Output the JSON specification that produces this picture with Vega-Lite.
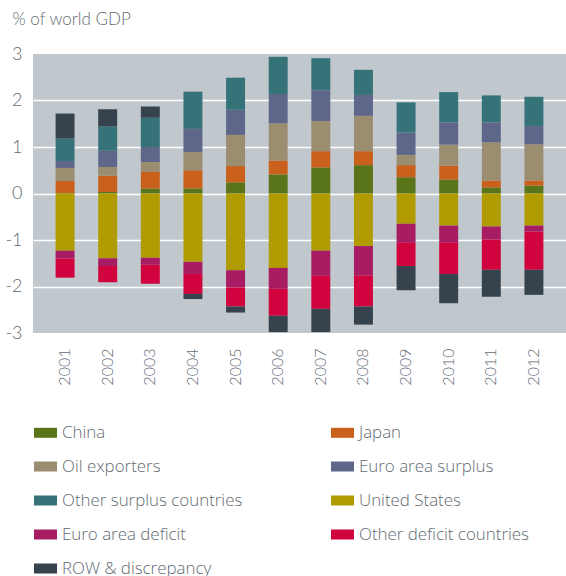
{
  "$schema": "https://vega.github.io/schema/vega-lite/v6.json",
  "autosize": "none",
  "width": 533,
  "height": 279,
  "padding": {"left": 33, "top": 54, "right": 0, "bottom": 243},
  "background": "white",
  "config": {
    "view": {"fill": "#C0C8CE", "stroke": null},
    "font": "Lato"
  },
  "data": {
    "values": [
      {"year":"2001","series":"China","value":0.01,"rank":1},
      {"year":"2001","series":"Japan","value":0.26,"rank":2},
      {"year":"2001","series":"Oil exporters","value":0.28,"rank":3},
      {"year":"2001","series":"Euro area surplus","value":0.15,"rank":4},
      {"year":"2001","series":"Other surplus countries","value":0.48,"rank":5},
      {"year":"2001","series":"United States","value":-1.23,"rank":6},
      {"year":"2001","series":"Euro area deficit","value":-0.17,"rank":7},
      {"year":"2001","series":"Other deficit countries","value":-0.41,"rank":8},
      {"year":"2001","series":"ROW & discrepancy","value":0.54,"rank":9},
      {"year":"2002","series":"China","value":0.03,"rank":1},
      {"year":"2002","series":"Japan","value":0.35,"rank":2},
      {"year":"2002","series":"Oil exporters","value":0.19,"rank":3},
      {"year":"2002","series":"Euro area surplus","value":0.35,"rank":4},
      {"year":"2002","series":"Other surplus countries","value":0.52,"rank":5},
      {"year":"2002","series":"United States","value":-1.39,"rank":6},
      {"year":"2002","series":"Euro area deficit","value":-0.17,"rank":7},
      {"year":"2002","series":"Other deficit countries","value":-0.35,"rank":8},
      {"year":"2002","series":"ROW & discrepancy","value":0.37,"rank":9},
      {"year":"2003","series":"China","value":0.11,"rank":1},
      {"year":"2003","series":"Japan","value":0.35,"rank":2},
      {"year":"2003","series":"Oil exporters","value":0.22,"rank":3},
      {"year":"2003","series":"Euro area surplus","value":0.32,"rank":4},
      {"year":"2003","series":"Other surplus countries","value":0.63,"rank":5},
      {"year":"2003","series":"United States","value":-1.38,"rank":6},
      {"year":"2003","series":"Euro area deficit","value":-0.15,"rank":7},
      {"year":"2003","series":"Other deficit countries","value":-0.41,"rank":8},
      {"year":"2003","series":"ROW & discrepancy","value":0.24,"rank":9},
      {"year":"2004","series":"China","value":0.11,"rank":1},
      {"year":"2004","series":"Japan","value":0.39,"rank":2},
      {"year":"2004","series":"Oil exporters","value":0.39,"rank":3},
      {"year":"2004","series":"Euro area surplus","value":0.50,"rank":4},
      {"year":"2004","series":"Other surplus countries","value":0.80,"rank":5},
      {"year":"2004","series":"United States","value":-1.47,"rank":6},
      {"year":"2004","series":"Euro area deficit","value":-0.26,"rank":7},
      {"year":"2004","series":"Other deficit countries","value":-0.43,"rank":8},
      {"year":"2004","series":"ROW & discrepancy","value":-0.11,"rank":9},
      {"year":"2005","series":"China","value":0.24,"rank":1},
      {"year":"2005","series":"Japan","value":0.35,"rank":2},
      {"year":"2005","series":"Oil exporters","value":0.67,"rank":3},
      {"year":"2005","series":"Euro area surplus","value":0.54,"rank":4},
      {"year":"2005","series":"Other surplus countries","value":0.69,"rank":5},
      {"year":"2005","series":"United States","value":-1.65,"rank":6},
      {"year":"2005","series":"Euro area deficit","value":-0.37,"rank":7},
      {"year":"2005","series":"Other deficit countries","value":-0.41,"rank":8},
      {"year":"2005","series":"ROW & discrepancy","value":-0.13,"rank":9},
      {"year":"2006","series":"China","value":0.41,"rank":1},
      {"year":"2006","series":"Japan","value":0.30,"rank":2},
      {"year":"2006","series":"Oil exporters","value":0.80,"rank":3},
      {"year":"2006","series":"Euro area surplus","value":0.63,"rank":4},
      {"year":"2006","series":"Other surplus countries","value":0.80,"rank":5},
      {"year":"2006","series":"United States","value":-1.60,"rank":6},
      {"year":"2006","series":"Euro area deficit","value":-0.45,"rank":7},
      {"year":"2006","series":"Other deficit countries","value":-0.58,"rank":8},
      {"year":"2006","series":"ROW & discrepancy","value":-0.35,"rank":9},
      {"year":"2007","series":"China","value":0.56,"rank":1},
      {"year":"2007","series":"Japan","value":0.35,"rank":2},
      {"year":"2007","series":"Oil exporters","value":0.65,"rank":3},
      {"year":"2007","series":"Euro area surplus","value":0.66,"rank":4},
      {"year":"2007","series":"Other surplus countries","value":0.69,"rank":5},
      {"year":"2007","series":"United States","value":-1.23,"rank":6},
      {"year":"2007","series":"Euro area deficit","value":-0.54,"rank":7},
      {"year":"2007","series":"Other deficit countries","value":-0.71,"rank":8},
      {"year":"2007","series":"ROW & discrepancy","value":-0.50,"rank":9},
      {"year":"2008","series":"China","value":0.61,"rank":1},
      {"year":"2008","series":"Japan","value":0.30,"rank":2},
      {"year":"2008","series":"Oil exporters","value":0.76,"rank":3},
      {"year":"2008","series":"Euro area surplus","value":0.45,"rank":4},
      {"year":"2008","series":"Other surplus countries","value":0.54,"rank":5},
      {"year":"2008","series":"United States","value":-1.13,"rank":6},
      {"year":"2008","series":"Euro area deficit","value":-0.63,"rank":7},
      {"year":"2008","series":"Other deficit countries","value":-0.67,"rank":8},
      {"year":"2008","series":"ROW & discrepancy","value":-0.39,"rank":9},
      {"year":"2009","series":"China","value":0.35,"rank":1},
      {"year":"2009","series":"Japan","value":0.26,"rank":2},
      {"year":"2009","series":"Oil exporters","value":0.22,"rank":3},
      {"year":"2009","series":"Euro area surplus","value":0.48,"rank":4},
      {"year":"2009","series":"Other surplus countries","value":0.65,"rank":5},
      {"year":"2009","series":"United States","value":-0.65,"rank":6},
      {"year":"2009","series":"Euro area deficit","value":-0.41,"rank":7},
      {"year":"2009","series":"Other deficit countries","value":-0.50,"rank":8},
      {"year":"2009","series":"ROW & discrepancy","value":-0.52,"rank":9},
      {"year":"2010","series":"China","value":0.30,"rank":1},
      {"year":"2010","series":"Japan","value":0.30,"rank":2},
      {"year":"2010","series":"Oil exporters","value":0.45,"rank":3},
      {"year":"2010","series":"Euro area surplus","value":0.48,"rank":4},
      {"year":"2010","series":"Other surplus countries","value":0.65,"rank":5},
      {"year":"2010","series":"United States","value":-0.69,"rank":6},
      {"year":"2010","series":"Euro area deficit","value":-0.37,"rank":7},
      {"year":"2010","series":"Other deficit countries","value":-0.67,"rank":8},
      {"year":"2010","series":"ROW & discrepancy","value":-0.63,"rank":9},
      {"year":"2011","series":"China","value":0.13,"rank":1},
      {"year":"2011","series":"Japan","value":0.15,"rank":2},
      {"year":"2011","series":"Oil exporters","value":0.82,"rank":3},
      {"year":"2011","series":"Euro area surplus","value":0.43,"rank":4},
      {"year":"2011","series":"Other surplus countries","value":0.58,"rank":5},
      {"year":"2011","series":"United States","value":-0.71,"rank":6},
      {"year":"2011","series":"Euro area deficit","value":-0.28,"rank":7},
      {"year":"2011","series":"Other deficit countries","value":-0.65,"rank":8},
      {"year":"2011","series":"ROW & discrepancy","value":-0.58,"rank":9},
      {"year":"2012","series":"China","value":0.17,"rank":1},
      {"year":"2012","series":"Japan","value":0.11,"rank":2},
      {"year":"2012","series":"Oil exporters","value":0.78,"rank":3},
      {"year":"2012","series":"Euro area surplus","value":0.39,"rank":4},
      {"year":"2012","series":"Other surplus countries","value":0.63,"rank":5},
      {"year":"2012","series":"United States","value":-0.69,"rank":6},
      {"year":"2012","series":"Euro area deficit","value":-0.13,"rank":7},
      {"year":"2012","series":"Other deficit countries","value":-0.82,"rank":8},
      {"year":"2012","series":"ROW & discrepancy","value":-0.54,"rank":9}
    ]
  },
  "mark": {"type": "bar"},
  "encoding": {
    "x": {
      "field": "year",
      "type": "nominal",
      "scale": {"paddingInner": 0.555, "paddingOuter": 0.53},
      "axis": {
        "title": null,
        "labelAngle": -90,
        "ticks": false,
        "domain": false,
        "labelPadding": 15,
        "labelFontSize": 16,
        "labelColor": "#626b73",
        "labelFont": "Lato",
        "labelFontWeight": 300
      }
    },
    "y": {
      "field": "value",
      "type": "quantitative",
      "stack": "zero",
      "scale": {"domain": [-3, 3], "nice": false, "zero": true},
      "axis": {
        "values": [-3, -2, -1, 0, 1, 2, 3],
        "labelExpr": "toString(datum.value)",
        "ticks": false,
        "domain": false,
        "grid": true,
        "gridColor": "white",
        "gridWidth": 1.5,
        "gridOpacity": {"condition": {"test": "abs(datum.value) == 3", "value": 0}, "value": 1},
        "labelPadding": 11,
        "labelFontSize": 18,
        "labelColor": "#626b73",
        "labelFont": "Lato",
        "labelFontWeight": 300,
        "title": "% of world GDP",
        "titleAngle": 0,
        "titleAlign": "left",
        "titleBaseline": "alphabetic",
        "titleX": -21,
        "titleY": -30,
        "titleFontSize": 17,
        "titleFontWeight": 300,
        "titleFont": "Lato",
        "titleColor": "#626b73"
      }
    },
    "color": {
      "field": "series",
      "type": "nominal",
      "scale": {
        "domain": ["China", "Japan", "Oil exporters", "Euro area surplus", "Other surplus countries", "United States", "Euro area deficit", "Other deficit countries", "ROW & discrepancy"],
        "range": ["#5A7519", "#C9601B", "#9A8D70", "#5E668A", "#367378", "#B09B00", "#A81C63", "#D0033F", "#36434C"]
      },
      "legend": {
        "title": null,
        "orient": "none",
        "legendX": 1,
        "legendY": 367,
        "direction": "horizontal",
        "columns": 2,
        "columnPadding": 88,
        "rowPadding": 14,
        "gridAlign": "all",
        "symbolType": "M-1,-0.435L1,-0.435L1,0.435L-1,0.435Z",
        "symbolSize": 529,
        "symbolStrokeWidth": 0,
        "symbolOpacity": 1,
        "labelFontSize": 16.9,
        "labelFont": "Open Sans",
        "labelFontWeight": 300,
        "labelColor": "#626b73",
        "labelOffset": 5,
        "labelLimit": 300
      }
    },
    "order": {"field": "rank", "type": "quantitative"}
  }
}
